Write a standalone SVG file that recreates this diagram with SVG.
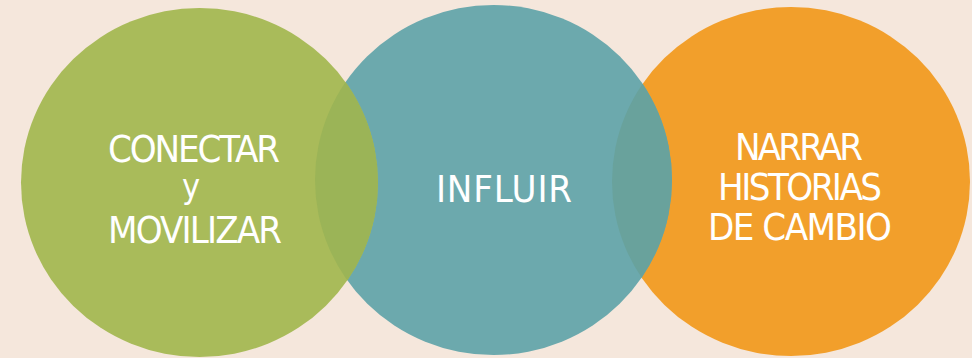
<svg xmlns="http://www.w3.org/2000/svg" width="972" height="358" viewBox="0 0 972 358">
<style>
.lbl{font-family:"Liberation Sans Narrow","DejaVu Sans",sans-serif;font-stretch:condensed;font-weight:normal;font-size:38px;fill:#FFFFFF}
.sm{font-size:34px}
</style>
<defs>
<clipPath id="clipTeal"><ellipse cx="493.5" cy="180" rx="178.5" ry="175"/></clipPath>
<clipPath id="clipOrange"><ellipse cx="791" cy="181.5" rx="179" ry="174.5"/></clipPath>
</defs>
<rect x="0" y="0" width="972" height="358" fill="#F5E7DC"/>
<g id="node-orange">
<ellipse cx="791" cy="181.5" rx="179" ry="174.5" fill="#F29F2B"/>
</g>
<g id="node-teal">
<ellipse cx="493.5" cy="180" rx="178.5" ry="175" fill="#6CA9AD"/>
<ellipse cx="493.5" cy="180" rx="178.5" ry="175" fill="#69A29C" clip-path="url(#clipOrange)"/>
</g>
<g id="node-green">
<ellipse cx="199.5" cy="182.5" rx="178.5" ry="174.5" fill="#A9BB5A"/>
<ellipse cx="199.5" cy="182.5" rx="178.5" ry="174.5" fill="#9BB457" clip-path="url(#clipTeal)"/>
</g>
<g id="labels-green">
<text class="lbl"><tspan x="108" y="162" textLength="172" lengthAdjust="spacing">CONECTAR</tspan><tspan class="sm" x="191" y="198" text-anchor="middle">y</tspan><tspan x="108" y="243" textLength="174" lengthAdjust="spacing">MOVILIZAR</tspan></text>
</g>
<g id="labels-teal">
<text class="lbl" x="436" y="202" textLength="136" lengthAdjust="spacing">INFLUIR</text>
</g>
<g id="labels-orange">
<text class="lbl"><tspan x="735" y="160" textLength="128" lengthAdjust="spacing">NARRAR</tspan><tspan x="718" y="200" textLength="164" lengthAdjust="spacing">HISTORIAS</tspan><tspan x="708" y="240" textLength="184" lengthAdjust="spacing">DE CAMBIO</tspan></text>
</g>
<g id="connectors"></g>
</svg>
